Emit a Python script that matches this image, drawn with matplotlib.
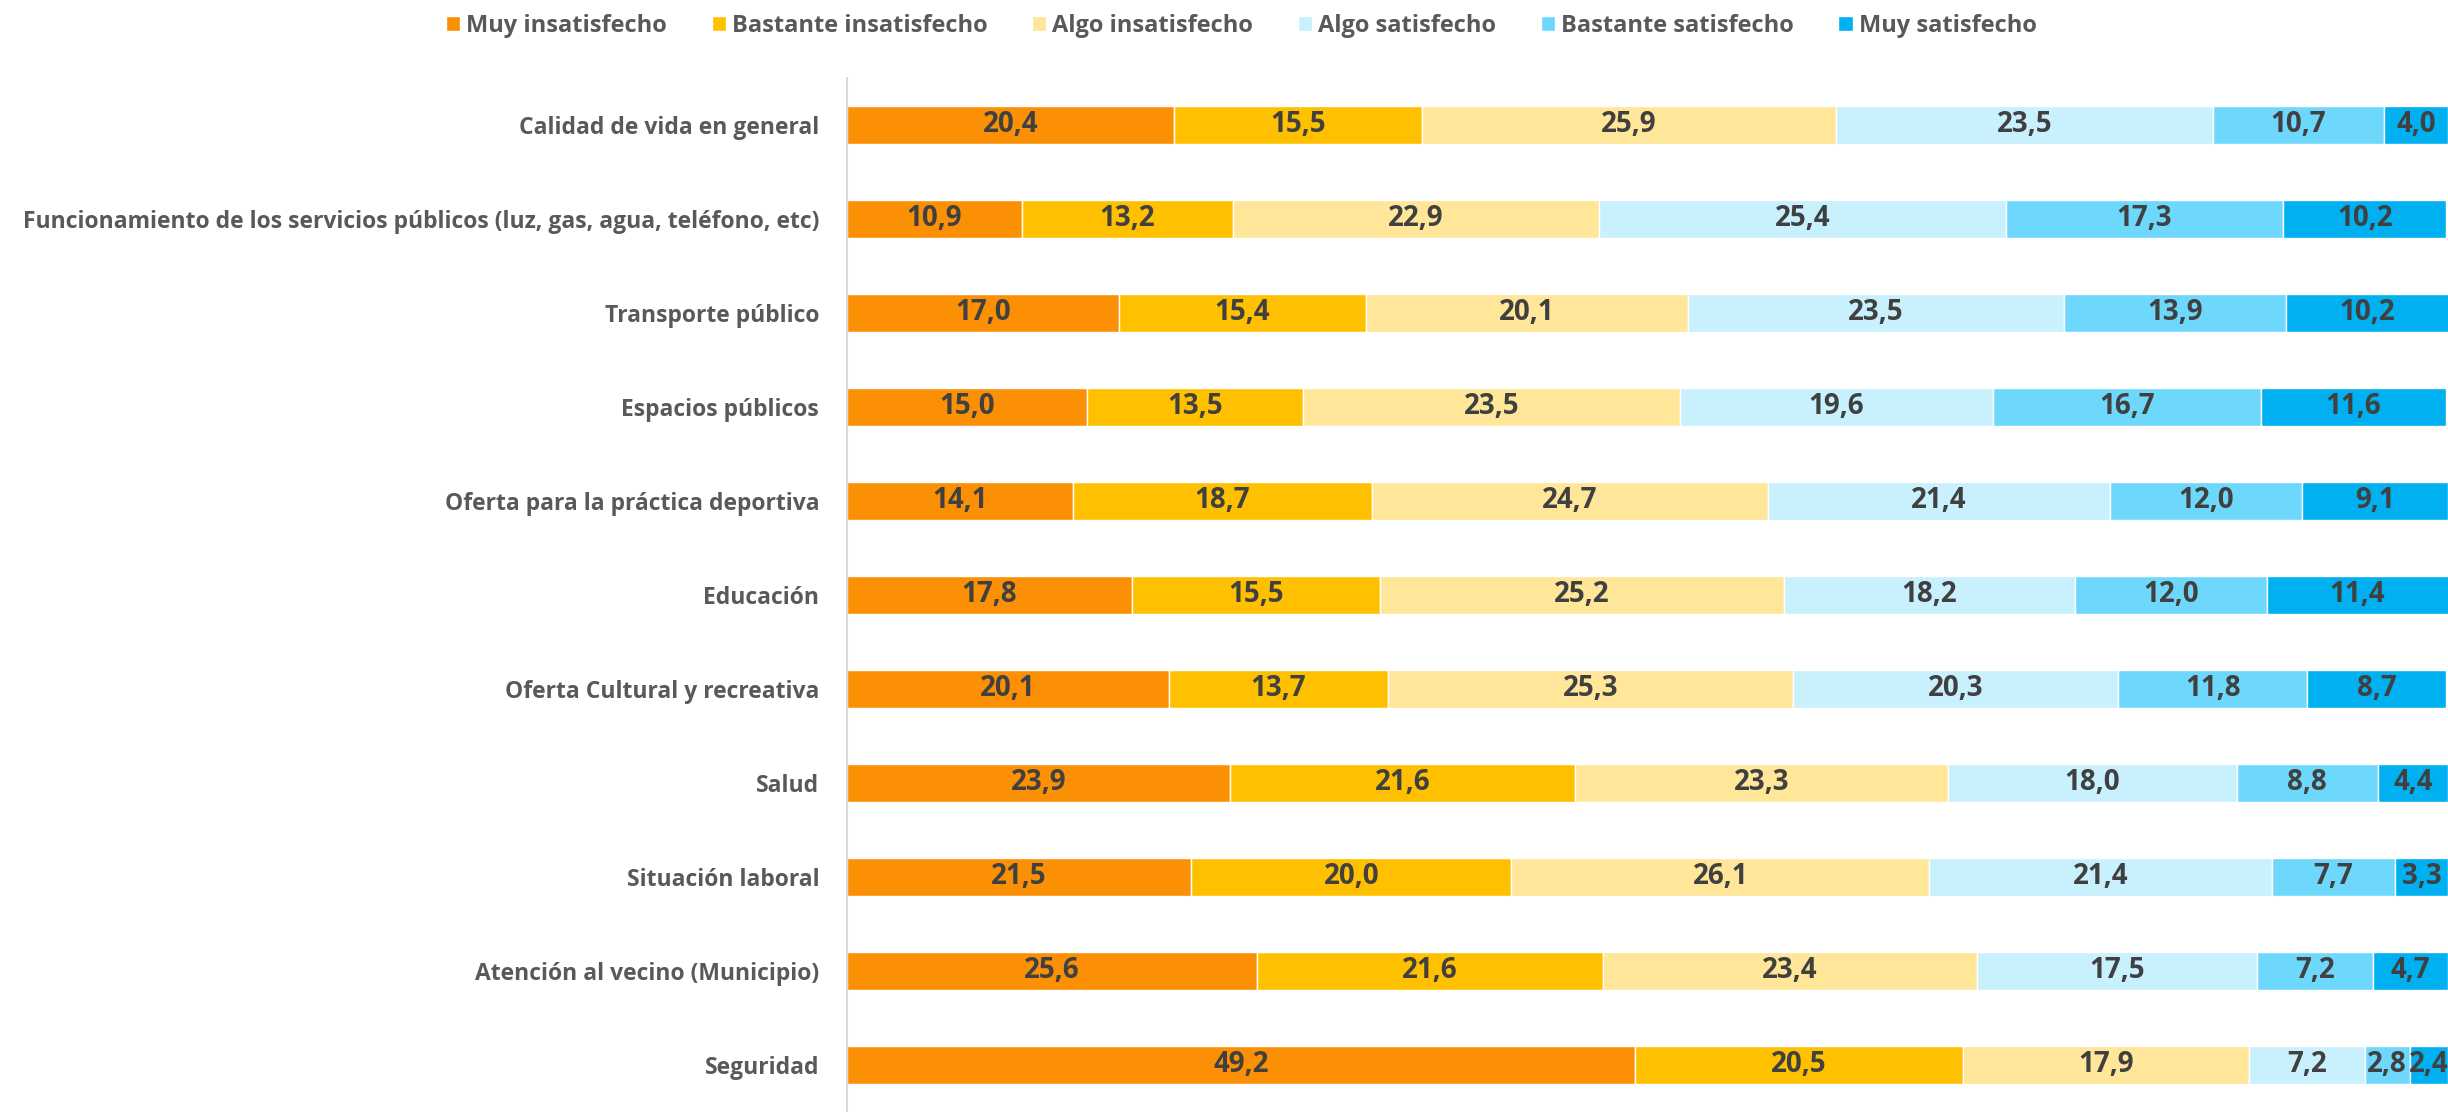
import matplotlib.pyplot as plt
from matplotlib import font_manager

# datos de la encuesta (porcentajes)
categorias = [
    'Calidad de vida en general',
    'Funcionamiento de los servicios públicos (luz, gas, agua, teléfono, etc)',
    'Transporte público',
    'Espacios públicos',
    'Oferta para la práctica deportiva',
    'Educación',
    'Oferta Cultural y recreativa',
    'Salud',
    'Situación laboral',
    'Atención al vecino (Municipio)',
    'Seguridad',
]
niveles = ['Muy insatisfecho', 'Bastante insatisfecho', 'Algo insatisfecho',
           'Algo satisfecho', 'Bastante satisfecho', 'Muy satisfecho']
muy_insat = [20.4, 10.9, 17.0, 15.0, 14.1, 17.8, 20.1, 23.9, 21.5, 25.6, 49.2]
bast_insat = [15.5, 13.2, 15.4, 13.5, 18.7, 15.5, 13.7, 21.6, 20.0, 21.6, 20.5]
algo_insat = [25.9, 22.9, 20.1, 23.5, 24.7, 25.2, 25.3, 23.3, 26.1, 23.4, 17.9]
algo_sat = [23.5, 25.4, 23.5, 19.6, 21.4, 18.2, 20.3, 18.0, 21.4, 17.5, 7.2]
bast_sat = [10.7, 17.3, 13.9, 16.7, 12.0, 12.0, 11.8, 8.8, 7.7, 7.2, 2.8]
muy_sat = [4.0, 10.2, 10.2, 11.6, 9.1, 11.4, 8.7, 4.4, 3.3, 4.7, 2.4]
series = [muy_insat, bast_insat, algo_insat, algo_sat, bast_sat, muy_sat]
colores = ['#FB9004', '#FFC000', '#FFE699', '#C9F0FD', '#6DD8FC', '#00B0F0']

disponibles = {f.name for f in font_manager.fontManager.ttflist}
familia = [f for f in ['Liberation Sans Narrow', 'Open Sans', 'DejaVu Sans'] if f in disponibles]
plt.rcParams['font.family'] = familia
plt.rcParams['font.weight'] = 'bold'

fig = plt.figure(figsize=(24.48, 11.12), dpi=100)
ax = fig.add_axes([0.346, 0.0, 0.654, 0.93])

y = list(range(len(categorias)))
izq = [0.0] * len(categorias)
for nombre, vals, col in zip(niveles, series, colores):
    barras = ax.barh(y, vals, left=izq, height=0.4, color=col, label=nombre,
                     edgecolor='white', linewidth=1)
    ax.bar_label(barras, labels=[f'{v:.1f}'.replace('.', ',') for v in vals],
                 label_type='center', fontsize=20, fontweight='bold', color='#404040')
    izq = [a + b for a, b in zip(izq, vals)]

ax.set_xlim(0, 100)
ax.set_ylim(len(categorias) - 0.5, -0.5)
ax.set_yticks(y)
ax.set_yticklabels(categorias, fontsize=16.5, fontweight='bold', color='#595959')
ax.tick_params(axis='y', length=0, pad=20)
ax.set_xticks([])
for s in ['top', 'right', 'bottom']:
    ax.spines[s].set_visible(False)
ax.spines['left'].set_color('#D9D9D9')
ax.spines['left'].set_linewidth(1.5)

fig.legend(loc='center', bbox_to_anchor=(0.507, 0.977), ncol=6, frameon=False,
           handlelength=0.6, handleheight=0.6, handletextpad=0.25,
           columnspacing=1.9, labelcolor='#595959', prop={'weight': 'bold', 'size': 17})

fig.savefig('out.png', dpi=100)
